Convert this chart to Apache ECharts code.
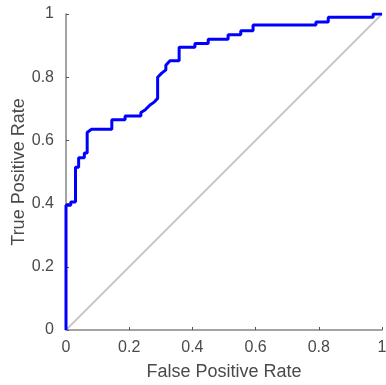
<!DOCTYPE html>
<html>
<head>
<meta charset="utf-8">
<script src="https://cdn.jsdelivr.net/npm/echarts@6/dist/echarts.min.js"></script>
<style>
  html, body { margin: 0; padding: 0; background: #fff; }
  #chart { width: 386px; height: 385px; }
</style>
</head>
<body>
<div id="chart"></div>
<script>
// ROC curve vertices
var fpr = [0, 0, 0.015, 0.015, 0.03, 0.03, 0.04, 0.04, 0.058, 0.058, 0.067, 0.067, 0.08, 0.145, 0.145,
  0.187, 0.187, 0.237, 0.237, 0.25, 0.266, 0.28, 0.29, 0.29, 0.303, 0.316, 0.316, 0.329, 0.358, 0.358,
  0.408, 0.408, 0.45, 0.45, 0.513, 0.513, 0.553, 0.553, 0.592, 0.592, 0.791, 0.791, 0.83, 0.83,
  0.972, 0.972, 1];
var tpr = [0, 0.395, 0.395, 0.405, 0.405, 0.515, 0.515, 0.545, 0.545, 0.56, 0.56, 0.625, 0.635, 0.635, 0.665,
  0.665, 0.677, 0.677, 0.688, 0.696, 0.712, 0.722, 0.733, 0.80, 0.813, 0.823, 0.838, 0.852, 0.852, 0.895,
  0.895, 0.907, 0.907, 0.92, 0.92, 0.934, 0.934, 0.947, 0.947, 0.965, 0.965, 0.975, 0.975, 0.99,
  0.99, 1, 1];
var chance = [[0, 0], [1, 1]];
var ticks = [0, 0.2, 0.4, 0.6, 0.8, 1];

var font = 'Liberation Sans, Arial, sans-serif';
var axisGrey = '#858585';
var textGrey = '#4a4a4a';

function fmt(v) {
  return ticks.indexOf(v) >= 0 ? String(v) : '';
}

var chart = echarts.init(document.getElementById('chart'));
chart.setOption({
  animation: false,
  grid: { left: 66, right: 4, top: 14, bottom: 55, outerBoundsMode: 'none', containLabel: false },
  xAxis: {
    type: 'value', min: 0, max: 1, interval: 0.2,
    name: 'False Positive Rate', nameLocation: 'middle', nameGap: 33, nameMoveOverlap: false,
    nameTextStyle: { fontFamily: font, fontSize: 18, color: textGrey },
    axisLine: { show: true, lineStyle: { color: axisGrey, width: 1.5 } },
    axisTick: { show: true, inside: true, length: 3, lineStyle: { color: '#555' } },
    axisLabel: { fontFamily: font, fontSize: 16, color: textGrey, margin: 10, formatter: fmt },
    splitLine: { show: false }
  },
  yAxis: {
    type: 'value', min: 0, max: 1, interval: 0.2,
    name: 'True Positive Rate', nameLocation: 'middle', nameGap: 38, nameMoveOverlap: false,
    nameTextStyle: { fontFamily: font, fontSize: 18, color: textGrey },
    axisLine: { show: true, lineStyle: { color: axisGrey, width: 1.5 } },
    axisTick: { show: true, inside: true, length: 3, lineStyle: { color: '#555' } },
    axisLabel: { fontFamily: font, fontSize: 16, color: textGrey, margin: 12, formatter: fmt },
    splitLine: { show: false }
  },
  series: [
    {
      type: 'line',
      data: chance,
      symbol: 'none',
      lineStyle: { color: '#c8c8c8', width: 2 },
      z: 1
    },
    {
      type: 'line',
      data: fpr.map(function (x, i) { return [x, tpr[i]]; }),
      symbol: 'none',
      lineStyle: { color: '#0000ff', width: 3 },
      z: 3
    }
  ]
});
</script>
</body>
</html>
